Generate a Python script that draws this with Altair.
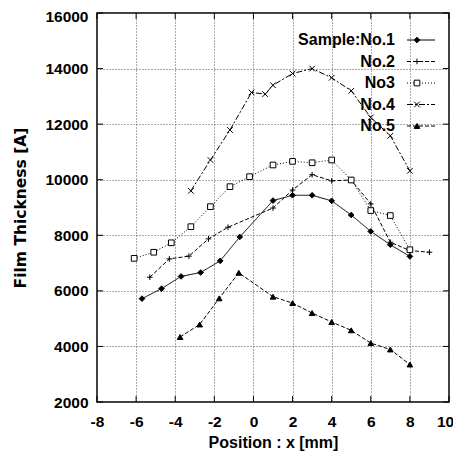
import altair as alt
import pandas as pd

# ---------------- data ----------------
names = ["Sample:No.1", "No.2", "No3", "No.4", "No.5"]

no1_x = [-5.7, -4.7, -3.7, -2.7, -1.7, -0.7, 1, 2, 3, 4, 5, 6, 7, 8]
no1_y = [5720, 6080, 6520, 6660, 7080, 7940, 9250, 9440, 9440, 9240, 8730, 8140, 7660, 7240]

no2_x = [-5.3, -4.3, -3.3, -2.3, -1.3, 1, 2, 3, 4, 5, 6, 7, 8, 9]
no2_y = [6490, 7150, 7250, 7870, 8290, 8980, 9630, 10180, 9960, 9990, 9130, 7750, 7450, 7390]

no3_x = [-6.1, -5.1, -4.2, -3.2, -2.2, -1.2, -0.2, 1, 2, 3, 4, 5, 6, 7, 8]
no3_y = [7170, 7390, 7730, 8310, 9030, 9750, 10110, 10530, 10660, 10610, 10710, 9990, 8890, 8710, 7480]

no4_x = [-3.2, -2.2, -1.2, -0.1, 0.6, 1, 2, 3, 4, 5, 6, 7, 8]
no4_y = [9600, 10710, 11790, 13140, 13080, 13400, 13820, 14000, 13670, 13200, 12240, 11580, 10320]

no5_x = [-3.75, -2.75, -1.75, -0.75, 1, 2, 3, 4, 5, 6, 7, 8]
no5_y = [4340, 4790, 5730, 6650, 5790, 5560, 5200, 4880, 4580, 4120, 3890, 3350]

x_ticks = [-8, -6, -4, -2, 0, 2, 4, 6, 8, 10]
y_ticks = [2000, 4000, 6000, 8000, 10000, 12000, 14000, 16000]

# ---------------- build tables ----------------
rows = []
for nm, xs_, ys_ in zip(names, [no1_x, no2_x, no3_x, no4_x, no5_x],
                        [no1_y, no2_y, no3_y, no4_y, no5_y]):
    for xv, yv in zip(xs_, ys_):
        rows.append({"series": nm, "x": xv, "y": yv})
df = pd.DataFrame(rows)
legend_df = pd.DataFrame({"series": names, "row": list(range(len(names)))})
xt_df = pd.DataFrame({"x": x_ticks})
yt_df = pd.DataFrame({"y": y_ticks})

W, H = 352, 389
FONT = "Liberation Sans, Arial, sans-serif"

dashes = [[1, 0], [4, 2], [1, 2], [6, 2, 2, 2], [4, 2]]
shapes = ["diamond", "M-1,0L1,0M0,-1L0,1", "square", "M-1,-1L1,1M-1,1L1,-1", "triangle-up"]
fills = ["black", "transparent", "white", "transparent", "black"]

xs = alt.Scale(domain=[-8, 10], nice=False, zero=False)
ys = alt.Scale(domain=[2000, 16000], nice=False, zero=False)

dash_enc = alt.StrokeDash("series:N", scale=alt.Scale(domain=names, range=dashes), legend=None)
shape_enc = alt.Shape("series:N", scale=alt.Scale(domain=names, range=shapes), legend=None)
fill_enc = alt.Fill("series:N", scale=alt.Scale(domain=names, range=fills), legend=None)

x_axis = alt.Axis(
    values=x_ticks, title="Position : x  [mm]", grid=True, ticks=False, domain=False,
    labelExpr="'' + datum.value",
    labelOffset={"condition": {"test": "datum.value == %d" % x_ticks[-1], "value": -4}, "value": 0},
    labelFlush=False, labelOverlap=False, labelPadding=12, labelBaseline="top",
    titleX=W / 2, titleY=45, titleBaseline="alphabetic", titleAlign="center")
y_axis = alt.Axis(
    values=y_ticks, title="Film Thickness [A]", grid=True, ticks=False, domain=False,
    labelExpr="'' + datum.value",
    labelOffset={"condition": {"test": "datum.value == %d" % y_ticks[-1], "value": 3}, "value": 0},
    labelFlush=False, labelOverlap=False, labelPadding=9,
    titleX=-77, titleY=H / 2, titleAngle=270, titleAlign="center", titleBaseline="middle",
    titleFont="DejaVu Sans", titleFontSize=15.5)
x_enc = alt.X("x:Q", scale=xs, axis=x_axis)
y_enc = alt.Y("y:Q", scale=ys, axis=y_axis)

lines = alt.Chart(df).mark_line(color="black", strokeWidth=1).encode(
    x=x_enc, y=y_enc, strokeDash=dash_enc, detail="series:N")
points = alt.Chart(df).mark_point(stroke="black", strokeWidth=1, opacity=1, size=32).encode(
    x=x_enc, y=y_enc, shape=shape_enc, fill=fill_enc)

tick_len = 6
tb = alt.Chart(xt_df).mark_rule(color="black", strokeWidth=1).encode(
    x=x_enc, y=alt.value(H), y2=alt.value(H - tick_len))
tt = alt.Chart(xt_df).mark_rule(color="black", strokeWidth=1).encode(
    x=x_enc, y=alt.value(0), y2=alt.value(tick_len))
tl = alt.Chart(yt_df).mark_rule(color="black", strokeWidth=1).encode(
    y=y_enc, x=alt.value(0), x2=alt.value(tick_len))
tr = alt.Chart(yt_df).mark_rule(color="black", strokeWidth=1).encode(
    y=y_enc, x=alt.value(W), x2=alt.value(W - tick_len))

main = alt.layer(lines, points, tb, tt, tl, tr)

ly = alt.Y("row:Q", scale=alt.Scale(domain=[0, 4], range=[27, 113]), axis=None)
leg_text = alt.Chart(legend_df).mark_text(
    align="right", baseline="middle", font=FONT, fontSize=16, fontWeight="bold", color="black"
).encode(x=alt.value(298), y=ly, text="series:N")
leg_line = alt.Chart(legend_df).mark_rule(color="black", strokeWidth=1).encode(
    x=alt.value(310), x2=alt.value(338), y=ly, strokeDash=dash_enc)
leg_pt = alt.Chart(legend_df).mark_point(stroke="black", strokeWidth=1, opacity=1, size=32).encode(
    x=alt.value(320), y=ly, shape=shape_enc, fill=fill_enc)
legend = alt.layer(leg_text, leg_line, leg_pt)

chart = alt.layer(main, legend).resolve_scale(y="independent").properties(
    width=W, height=H,
    autosize=alt.AutoSizeParams(type="none"),
    padding={"left": 89, "top": 5, "right": 4, "bottom": 49},
    background="white",
).configure_view(
    stroke="black", strokeWidth=1.5
).configure_axis(
    labelFont=FONT, labelFontSize=15.5, labelFontWeight="bold", labelColor="black",
    labelOverlap=False,
    titleFont=FONT, titleFontSize=16, titleFontWeight="bold", titleColor="black",
    gridColor="#555555", gridDash=[1, 2], gridWidth=1, gridOpacity=1,
)

chart.save("out.html", embed_options={"renderer": "svg", "actions": False})
